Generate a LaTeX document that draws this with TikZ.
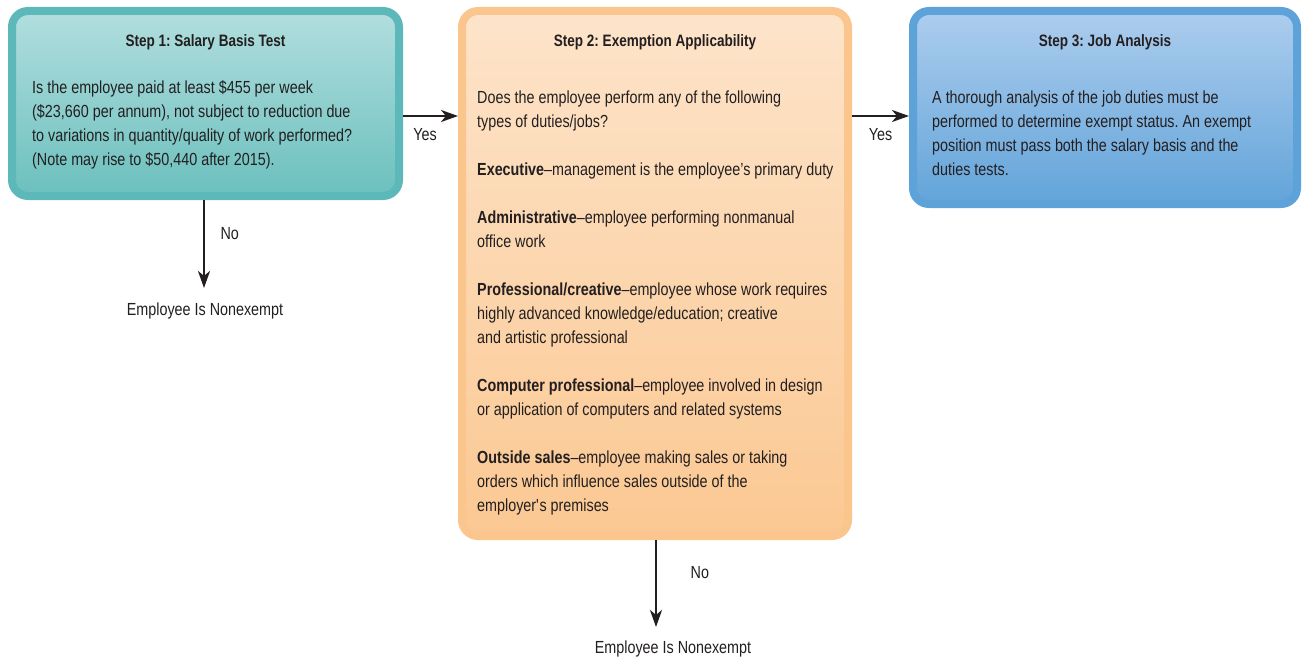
\documentclass[tikz,border=0pt]{standalone}
\usepackage{fontspec}
\setmainfont{Liberation Sans}[FakeStretch=0.82]
\frenchspacing
\usetikzlibrary{arrows.meta, positioning}
\definecolor{tinta}{HTML}{231F20}
\definecolor{tealborde}{HTML}{5DB9B9}
\definecolor{tealarriba}{HTML}{B2DEDE}
\definecolor{tealabajo}{HTML}{6BC0BE}
\definecolor{naranjaborde}{HTML}{FBC68E}
\definecolor{naranjaarriba}{HTML}{FDE4CA}
\definecolor{naranjaabajo}{HTML}{FBC892}
\definecolor{azulborde}{HTML}{5DA2D9}
\definecolor{azularriba}{HTML}{ADCDEE}
\definecolor{azulabajo}{HTML}{62A4D9}
\tikzset{
  paso/.style={rectangle, rounded corners=16pt, line width=8pt, inner sep=0pt},
  titulo/.style={font=\fontsize{16.5}{24}\selectfont\bfseries, text=tinta, anchor=base},
  % el ancla base cae en la ultima linea del texto
  cuerpo/.style={font=\fontsize{17.5}{24}\selectfont, text=tinta, align=left,
    anchor=base west, inner sep=0pt},
  flecha/.style={-{Stealth[length=17pt, width=12pt, inset=5pt]}, line width=2.6pt, color=tinta},
  etiq/.style={font=\fontsize{17.5}{24}\selectfont, text=tinta}
}
\begin{document}
\begin{tikzpicture}[x=1pt, y=-1pt]
  \useasboundingbox (0,0) rectangle (1302,661);
  % cajas
  \node[paso, draw=tealborde, top color=tealarriba, bottom color=tealabajo,
    minimum width=387pt, minimum height=185pt] (paso1) at (205.5,103.5) {};
  \node[paso, draw=naranjaborde, top color=naranjaarriba, bottom color=naranjaabajo,
    minimum width=386pt, minimum height=525pt] (paso2) at (655,273.5) {};
  \node[paso, draw=azulborde, top color=azularriba, bottom color=azulabajo,
    minimum width=384pt, minimum height=193pt] (paso3) at (1105,107.5) {};
  % textos
  \node[titulo] (tit1) at (205.5,47) {Step 1: Salary Basis Test};
  \node[cuerpo] (txt1) at (32,165) {Is the employee paid at least \$455 per week\\
    (\$23,660 per annum), not subject to reduction due\\
    to variations in quantity/quality of work performed?\\
    (Note may rise to \$50,440 after 2015).};
  \node[titulo] (tit2) at (655,47) {Step 2: Exemption Applicability};
  \node[cuerpo] (txt2) at (477,511) {Does the employee perform any of the following\\
    types of duties/jobs?\\[24pt]
    \textbf{Executive}--management is the employee’s primary duty\\[24pt]
    \textbf{Administrative}--employee performing nonmanual\\
    office work\\[24pt]
    \textbf{Professional/creative}--employee whose work requires\\
    highly advanced knowledge/education; creative\\
    and artistic professional\\[24pt]
    \textbf{Computer professional}--employee involved in design\\
    or application of computers and related systems\\[24pt]
    \textbf{Outside sales}--employee making sales or taking\\
    orders which influence sales outside of the\\
    employer\textquotesingle s premises};
  \node[titulo] (tit3) at (1105,47) {Step 3: Job Analysis};
  \node[cuerpo] (txt3) at (932,175) {A thorough analysis of the job duties must be\\
    performed to determine exempt status. An exempt\\
    position must pass both the salary basis and the\\
    duties tests.};
  % resultados
  \node[etiq, anchor=base] (nex1) at (205,315) {Employee Is Nonexempt};
  \node[etiq, anchor=base] (nex2) at (673,653) {Employee Is Nonexempt};
  \coordinate (nivel) at (0,116);
  \coordinate (fin1) at (204,288);
  \coordinate (fin2) at (656,627);
  % flechas
  \draw[flecha] (paso1.east |- nivel) -- node[etiq, pos=0.4, below=8pt]{Yes} (paso2.west |- nivel);
  \draw[flecha] (paso2.east |- nivel) -- node[etiq, pos=0.5, below=8pt]{Yes} (paso3.west |- nivel);
  \draw[flecha] (paso1.south -| fin1) -- node[etiq, pos=0.38, right=12pt]{No} (fin1);
  \draw[flecha] (paso2.south -| fin2) -- node[etiq, pos=0.38, right=30pt]{No} (fin2);
\end{tikzpicture}
\end{document}
